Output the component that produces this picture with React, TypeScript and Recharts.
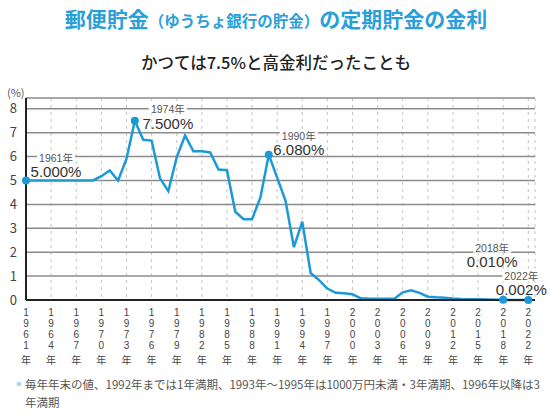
import { LineChart, Line, XAxis, YAxis, CartesianGrid } from "recharts";

const FONT = "'Noto Sans CJK JP', 'Noto Sans', sans-serif";
const DIGIT_FONT = "'Liberation Sans', Arial, sans-serif";
const CALLOUT_FONT = "'Liberation Sans', 'Noto Sans CJK JP', sans-serif";
const BLUE = "#1b9ad6";

// year-end rates (%)
const years = [
  1961, 1962, 1963, 1964, 1965, 1966, 1967, 1968, 1969, 1970,
  1971, 1972, 1973, 1974, 1975, 1976, 1977, 1978, 1979, 1980,
  1981, 1982, 1983, 1984, 1985, 1986, 1987, 1988, 1989, 1990,
  1991, 1992, 1993, 1994, 1995, 1996, 1997, 1998, 1999, 2000,
  2001, 2002, 2003, 2004, 2005, 2006, 2007, 2008, 2009, 2010,
  2011, 2012, 2013, 2014, 2015, 2016, 2017, 2018, 2019, 2020,
  2021, 2022,
];
const rates = [
  5.0, 5.0, 5.0, 5.0, 5.0, 5.0, 5.0, 5.0, 5.0, 5.18,
  5.42, 5.0, 5.9, 7.5, 6.7, 6.67, 5.1, 4.55, 5.97, 6.88,
  6.22, 6.22, 6.17, 5.46, 5.43, 3.69, 3.38, 3.38, 4.29, 6.08,
  5.12, 4.15, 2.21, 3.28, 1.13, 0.83, 0.48, 0.3, 0.28, 0.24,
  0.07, 0.05, 0.05, 0.05, 0.05, 0.32, 0.41, 0.3, 0.14, 0.11,
  0.09, 0.06, 0.04, 0.035, 0.03, 0.02, 0.01, 0.01, 0.002, 0.002,
  0.002, 0.002,
];
const tickYears = [
  1961, 1964, 1967, 1970, 1973, 1976, 1979, 1982, 1985, 1988,
  1991, 1994, 1997, 2000, 2003, 2006, 2009, 2012, 2015, 2018, 2022,
];
const yTicks = [0, 1, 2, 3, 4, 5, 6, 7, 8];
const calloutYears = [1961, 1974, 1990, 2018, 2022];

// label placement around each highlighted point: [dx, year dy, value dy]
const calloutOffsets: Record<number, [number, number, number]> = {
  1961: [30, -22.5, -8.5],
  1974: [33, -12, 3],
  1990: [30, -19, -5],
  2018: [-11, -52, -38],
  2022: [-7, -24, -10],
};

// the chart squeezes 2018-2022 into one tick step
const toPos = (y: number) => (y <= 2018 ? y : 2018 + (y - 2018) * 0.75);

const data = years.map((y, i) => ({ year: y, pos: toPos(y), rate: rates[i] }));

function XTick(props: any) {
  const { x, y, payload } = props;
  const yr = tickYears.find((t) => Math.abs(toPos(t) - payload.value) < 0.01);
  if (yr === undefined) return <g />;
  const digits = String(yr).split("");
  const top = y + 10;
  return (
    <g>
      {digits.map((d, i) => (
        <text
          key={i}
          x={x}
          y={top + i * 11}
          textAnchor="middle"
          dominantBaseline="central"
          fontSize={10}
          fill="#444"
          fontFamily={DIGIT_FONT}
        >
          {d}
        </text>
      ))}
      <text
        x={x}
        y={top + 47}
        textAnchor="middle"
        dominantBaseline="central"
        fontSize={10}
        fill="#444"
        fontFamily={FONT}
      >
        年
      </text>
    </g>
  );
}

function CalloutDot(props: any) {
  const { cx, cy, payload, index } = props;
  if (!calloutYears.includes(payload.year)) return <g key={index} />;
  const [dx, dyYear, dyVal] = calloutOffsets[payload.year];
  const yearText = `${payload.year}年`;
  return (
    <g key={index}>
      <circle cx={cx} cy={cy} r={4} fill={BLUE} />
      <rect x={cx + dx - 19} y={cy + dyYear - 5} width={38} height={10} fill="#fff" />
      <text
        x={cx + dx}
        y={cy + dyYear}
        textAnchor="middle"
        dominantBaseline="central"
        fontSize={10.5}
        fill="#555"
        fontFamily={CALLOUT_FONT}
      >
        {yearText}
      </text>
      <text
        x={cx + dx}
        y={cy + dyVal}
        textAnchor="middle"
        dominantBaseline="central"
        fontSize={15}
        fill="#333"
        fontFamily={CALLOUT_FONT}
      >
        {payload.rate.toFixed(3)}%
      </text>
    </g>
  );
}

export default function App() {
  return (
    <div
      style={{
        position: "relative",
        width: 550,
        height: 418,
        background: "#fff",
        fontFamily: FONT,
        overflow: "hidden",
      }}
    >
      <style>{"body{margin:0}"}</style>
      <div
        style={{
          position: "absolute",
          top: 5,
          left: 0,
          width: 552,
          textAlign: "center",
          color: "#2b9fd9",
          fontWeight: 700,
          fontSize: 21,
          lineHeight: "26px",
          whiteSpace: "nowrap",
        }}
      >
        郵便貯金<span style={{ fontSize: 15.5 }}>（ゆうちょ銀行の貯金）</span>の定期貯金の金利
      </div>
      <div
        style={{
          position: "absolute",
          top: 51,
          left: 0,
          width: 552,
          textAlign: "center",
          color: "#222",
          fontWeight: 500,
          fontSize: 16.5,
          lineHeight: "22px",
          whiteSpace: "nowrap",
        }}
      >
        かつては7.5%と高金利だったことも
      </div>
      <div
        style={{
          position: "absolute",
          top: 84,
          left: 7,
          fontSize: 11,
          color: "#555",
          lineHeight: "16px",
        }}
      >
        (%)
      </div>

      <div style={{ position: "absolute", top: 0, left: 0 }}>
        <LineChart
          width={550}
          height={380}
          data={data}
          margin={{ top: 98, right: 15, bottom: 0, left: 0 }}
        >
          <CartesianGrid horizontal={false} stroke="#c4c4c4" strokeDasharray="3 4" />
          <CartesianGrid vertical={false} stroke="#8c8c8c" strokeWidth={1.5} />
          <XAxis
            type="number"
            dataKey="pos"
            domain={[1961, 2021.8]}
            ticks={tickYears.map(toPos)}
            interval={0}
            height={80}
            tickLine={false}
            tickSize={0}
            axisLine={{ stroke: "#222", strokeWidth: 2 }}
            tick={<XTick />}
          />
          <YAxis
            type="number"
            domain={[0, 8.45]}
            ticks={yTicks}
            interval={0}
            width={26}
            tickLine={false}
            tickSize={0}
            tickMargin={9}
            axisLine={{ stroke: "#222", strokeWidth: 2 }}
            tick={{ fontSize: 13, fill: "#444", fontFamily: FONT }}
          />
          <Line
            type="linear"
            dataKey="rate"
            stroke={BLUE}
            strokeWidth={2.5}
            dot={(p: any) => <CalloutDot {...p} key={p.index} />}
            activeDot={false}
            isAnimationActive={false}
          />
        </LineChart>
      </div>

      <div
        style={{
          position: "absolute",
          left: 17,
          top: 382,
          width: 4,
          height: 4,
          background: "#a6d6ee",
        }}
      />
      <div
        style={{
          position: "absolute",
          left: 25,
          top: 375,
          fontSize: 11.5,
          lineHeight: "18px",
          color: "#555",
          whiteSpace: "nowrap",
        }}
      >
        毎年年末の値、1992年までは1年満期、1993年～1995年は1000万円未満・3年満期、1996年以降は3
        <br />
        年満期
      </div>
    </div>
  );
}
